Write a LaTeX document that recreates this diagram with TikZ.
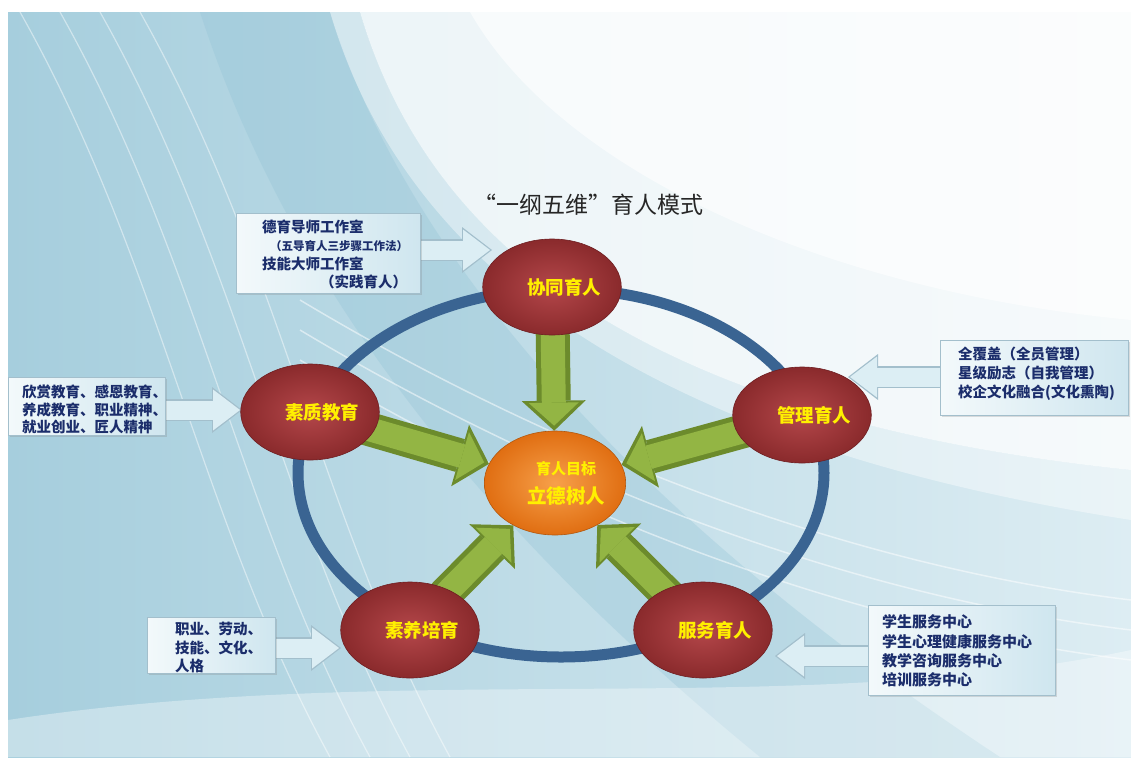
\documentclass[tikz,border=0pt]{standalone}
\usepackage{fontspec}
\newfontfamily\cjk{Noto Sans CJK SC}
\usetikzlibrary{positioning,shapes.geometric,arrows.meta,shadows}
\definecolor{ringBlue}{HTML}{3A6492}
\definecolor{ballIn}{HTML}{B4474A}
\definecolor{ballOut}{HTML}{8A2A2C}
\definecolor{ballEdge}{HTML}{6E1F22}
\definecolor{goalIn}{HTML}{F7A04A}
\definecolor{goalOut}{HTML}{E06E12}
\definecolor{lblYellow}{HTML}{FFF000}
\definecolor{gDark}{HTML}{6C8B2C}
\definecolor{gLight}{HTML}{93B544}
\definecolor{boxL}{HTML}{F3F9FB}
\definecolor{boxR}{HTML}{CFE6EF}
\definecolor{boxEdge}{HTML}{A3BFCC}
\definecolor{callFill}{HTML}{DCEEF4}
\definecolor{txtBlue}{HTML}{1B2D6B}
\definecolor{bgL}{HTML}{A6CEDD}
\definecolor{bgR}{HTML}{DDEDF3}
\definecolor{bgBand}{HTML}{8FC1D4}
\pgfdeclarelayer{bg}
\pgfdeclarelayer{mid}
\pgfsetlayers{bg,mid,main}

\begin{document}
\begin{tikzpicture}[x=1pt,y=-1pt,
		ball/.style={ellipse,minimum width=132pt,minimum height=96pt,inner sep=0pt,draw=ballEdge,line width=.6pt,inner color=ballIn,outer color=ballOut,text=lblYellow,font=\cjk\bfseries\fontsize{18.5}{20}\selectfont},
		goalball/.style={ellipse,minimum width=138pt,minimum height=104pt,inner sep=0pt,draw=goalOut!80!black,line width=.6pt,inner color=goalIn,outer color=goalOut,text=lblYellow,align=center,font=\cjk\bfseries\fontsize{19.5}{22}\selectfont},
		cbox/.style={rectangle,anchor=north west,draw=boxEdge,line width=.8pt,left color=boxL,right color=boxR,drop shadow={opacity=.25,shadow xshift=2pt,shadow yshift=-2pt}},
		ctext/.style={anchor=west,inner sep=0pt,align=left,text=txtBlue,font=\cjk\bfseries\fontsize{14.5}{18.5}\selectfont},
		gofwd/.style={draw=gDark,line width=34pt,shorten <=-14pt,-{Triangle[width=64pt,length=30pt,line width=0pt]},
			postaction={draw=gLight,line width=24pt,shorten <=-14pt,shorten >=5pt,-{Triangle[width=50pt,length=23pt,line width=0pt]}}},
		callarr/.style={draw=boxEdge,line width=22pt,-{Triangle[width=46pt,length=30pt,line width=0pt]},
			postaction={draw=callFill,line width=19pt,shorten >=2pt,-{Triangle[width=41pt,length=27pt,line width=0pt]}}}
	]
	\useasboundingbox (0,0) rectangle (1131,771);

	%backdrop
	\begin{pgfonlayer}{bg}
		\fill[white] (0,0) rectangle (1131,771);
		\fill[left color=bgL,right color=bgR] (8,12) rectangle (1131,757);
		\fill[bgBand,opacity=.3] (200,12) .. controls (300,320) and (520,560) .. (760,757) -- (1000,757) .. controls (700,560) and (420,300) .. (330,12) -- cycle;
		\fill[white,opacity=.75] (360,12) .. controls (430,250) and (650,420) .. (1131,470) -- (1131,12) -- cycle;
		\fill[white,opacity=.6] (470,12) .. controls (560,170) and (820,290) .. (1131,320) -- (1131,12) -- cycle;
		\fill[white,opacity=.4] (330,12) .. controls (400,250) and (620,440) .. (1131,520) -- (1131,470) .. controls (650,420) and (430,250) .. (360,12) -- cycle;
		%streaks
		\foreach \a in {0,40,80,120}{
			\draw[white,opacity=.45,line width=1.2pt] (\a+20,12) .. controls (\a+160,260) and (\a+200,520) .. (\a+330,757);
		}
		\foreach \a in {0,30,60}{
			\draw[white,opacity=.5,line width=1.5pt] (300,300+\a) .. controls (500,420+\a) and (800,560+\a) .. (1131,600+\a);
		}
		\fill[white,opacity=.35] (8,720) .. controls (400,660) and (800,720) .. (1131,650) -- (1131,757) -- (8,757) -- cycle;
	\end{pgfonlayer}

	\node[font=\cjk\fontsize{23}{26}\selectfont,text=black!85] (title) at (588,205) {“一纲五维”育人模式};

	%five dimensions
	\node[ball] (coop) at (552,287) {\hspace*{24pt}协同育人};
	\node[ball] (qual) at (310,412) {\hspace*{24pt}素质教育};
	\node[ball] (mgmt) at (802,415) {\hspace*{24pt}管理育人};
	\node[ball] (cult) at (410,630) {\hspace*{24pt}素养培育};
	\node[ball] (serv) at (703,630) {\hspace*{24pt}服务育人};
	\node[goalball] (goal) at (555,483) {\hspace*{22pt}{\fontsize{15}{15}\selectfont 育人目标}\\[7pt]\hspace*{22pt}立德树人};

	%side boxes
	\node[cbox,minimum width=184pt,minimum height=80pt] (b1) at (236,213) {};
	\node[cbox,minimum width=157pt,minimum height=58pt] (b2) at (8,377) {};
	\node[cbox,minimum width=188pt,minimum height=75pt] (b3) at (940,340) {};
	\node[cbox,minimum width=128pt,minimum height=56pt] (b4) at (147,617) {};
	\node[cbox,minimum width=187pt,minimum height=90pt] (b5) at (868,605) {};

	\node[ctext] (t1) at (262,254.5) {德育导师工作室\\\hspace*{8pt}{\fontsize{11.5}{11.5}\selectfont（五导育人三步骤工作法）}\\技能大师工作室\\\hspace*{58pt}（实践育人）};
	\node[ctext,font=\cjk\bfseries\fontsize{14.5}{17.5}\selectfont] (t2) at (22,409.5) {欣赏教育、感恩教育、\\养成教育、职业精神、\\就业创业、匠人精神};
	\node[ctext,font=\cjk\bfseries\fontsize{14.5}{19}\selectfont] (t3) at (958,374) {全覆盖（全员管理）\\星级励志（自我管理）\\校企文化融合(文化熏陶)};
	\node[ctext] (t4) at (175,647.5) {职业、劳动、\\技能、文化、\\人格};
	\node[ctext,font=\cjk\bfseries\fontsize{15}{19.3}\selectfont] (t5) at (882,651) {学生服务中心\\学生心理健康服务中心\\教学咨询服务中心\\培训服务中心};

	\coordinate (p1) at (492,250);
	\coordinate (p2) at (242,410);
	\coordinate (p3) at (848,377);
	\coordinate (p4) at (341,648);
	\coordinate (p5) at (775,656);

	\begin{pgfonlayer}{mid}
		%ring
		\draw[ringBlue,line width=11pt] (561,473) ellipse [x radius=263, y radius=184];
		%arrows into the goal
		\foreach \s in {coop,qual,mgmt,cult,serv}
			\draw[gofwd] (\s) -- (goal);
		%callout arrows
		\draw[callarr] (b1.center |- p1) -- (p1);
		\draw[callarr] (b2.center |- p2) -- (p2);
		\draw[callarr] (b3.center |- p3) -- (p3);
		\draw[callarr] (b4.center |- p4) -- (p4);
		\draw[callarr] (b5.center |- p5) -- (p5);
	\end{pgfonlayer}
\end{tikzpicture}
\end{document}
